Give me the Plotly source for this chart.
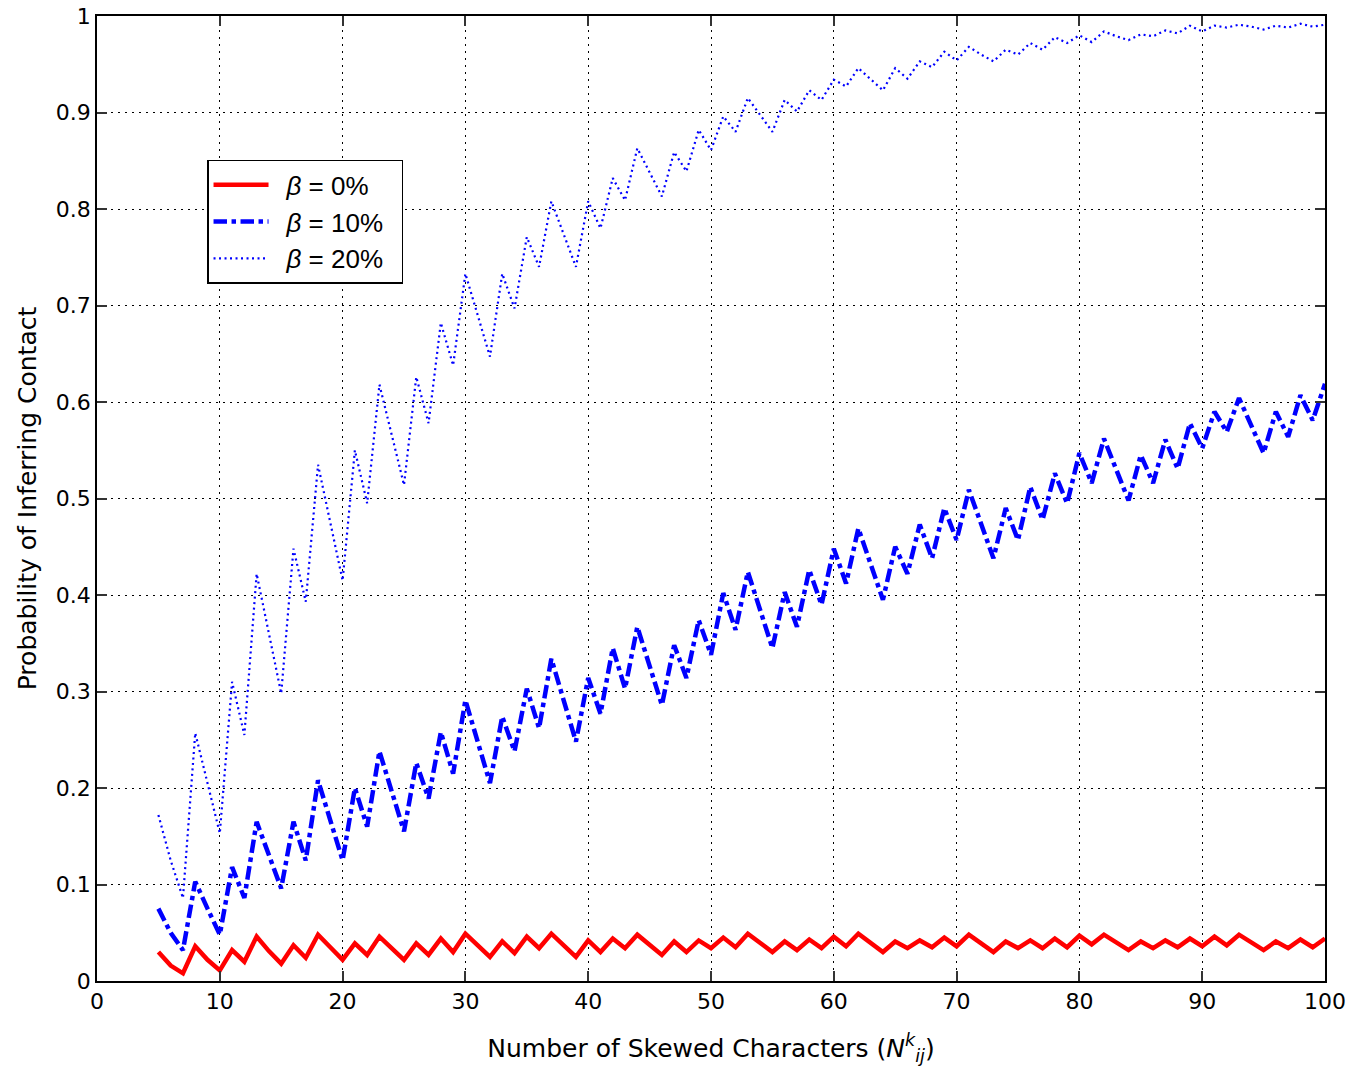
import plotly.graph_objects as go

# Number of skewed characters (N_ij^k)
n_chars = list(range(5, 101))

# Probability of inferring contact for each skew level
prob_beta_0 = [
    0.030, 0.016, 0.008, 0.036, 0.022, 0.011, 0.032, 0.020, 0.046, 0.031,
    0.018, 0.037, 0.024, 0.048, 0.035, 0.022, 0.039, 0.027, 0.046, 0.034,
    0.022, 0.039, 0.027, 0.044, 0.030, 0.049, 0.037, 0.025, 0.041, 0.029,
    0.046, 0.034, 0.049, 0.037, 0.025, 0.042, 0.030, 0.044, 0.034, 0.048,
    0.037, 0.027, 0.041, 0.030, 0.042, 0.034, 0.045, 0.035, 0.049, 0.039,
    0.030, 0.041, 0.032, 0.043, 0.034, 0.046, 0.036, 0.049, 0.039, 0.030,
    0.041, 0.034, 0.042, 0.035, 0.045, 0.036, 0.048, 0.039, 0.030, 0.041,
    0.034, 0.042, 0.034, 0.044, 0.035, 0.047, 0.038, 0.048, 0.040, 0.032,
    0.041, 0.034, 0.042, 0.035, 0.044, 0.036, 0.046, 0.037, 0.048, 0.040,
    0.032, 0.041, 0.034, 0.043, 0.035, 0.044,
]

prob_beta_10 = [
    0.075, 0.050, 0.032, 0.103, 0.075, 0.048, 0.118, 0.086, 0.165, 0.130,
    0.096, 0.165, 0.125, 0.208, 0.166, 0.125, 0.200, 0.160, 0.238, 0.197,
    0.155, 0.226, 0.189, 0.258, 0.215, 0.291, 0.248, 0.205, 0.274, 0.238,
    0.303, 0.262, 0.334, 0.291, 0.248, 0.314, 0.277, 0.345, 0.303, 0.367,
    0.326, 0.286, 0.348, 0.314, 0.374, 0.338, 0.402, 0.364, 0.424, 0.385,
    0.345, 0.403, 0.367, 0.426, 0.390, 0.448, 0.412, 0.469, 0.432, 0.395,
    0.450, 0.422, 0.473, 0.438, 0.490, 0.457, 0.509, 0.473, 0.438, 0.490,
    0.457, 0.512, 0.478, 0.526, 0.495, 0.547, 0.516, 0.562, 0.530, 0.498,
    0.545, 0.516, 0.561, 0.531, 0.578, 0.552, 0.590, 0.569, 0.604, 0.575,
    0.547, 0.590, 0.564, 0.607, 0.581, 0.619,
]

prob_beta_20 = [
    0.172, 0.125, 0.086, 0.257, 0.205, 0.153, 0.310, 0.255, 0.422, 0.360,
    0.298, 0.448, 0.393, 0.535, 0.475, 0.415, 0.550, 0.495, 0.618, 0.565,
    0.514, 0.626, 0.578, 0.682, 0.638, 0.733, 0.690, 0.647, 0.733, 0.697,
    0.771, 0.740, 0.808, 0.774, 0.740, 0.808, 0.780, 0.832, 0.809, 0.863,
    0.838, 0.813, 0.859, 0.839, 0.882, 0.861, 0.896, 0.880, 0.915, 0.897,
    0.880, 0.913, 0.901, 0.923, 0.913, 0.934, 0.927, 0.946, 0.934, 0.923,
    0.946, 0.935, 0.953, 0.947, 0.963, 0.954, 0.968, 0.960, 0.953, 0.965,
    0.960, 0.972, 0.965, 0.978, 0.972, 0.980, 0.973, 0.984, 0.979, 0.975,
    0.981, 0.979, 0.985, 0.982, 0.990, 0.984, 0.990, 0.988, 0.991, 0.989,
    0.986, 0.990, 0.988, 0.992, 0.989, 0.991,
]

x_ticks = [0, 10, 20, 30, 40, 50, 60, 70, 80, 90, 100]
y_ticks = [0, 0.1, 0.2, 0.3, 0.4, 0.5, 0.6, 0.7, 0.8, 0.9, 1]
y_tick_text = ["0", "0.1", "0.2", "0.3", "0.4", "0.5", "0.6", "0.7", "0.8", "0.9", "1"]

TICK_FONT = "DejaVu Sans, Verdana, sans-serif"
TEXT_FONT = "DejaVu Sans, Arial, sans-serif"
LEGEND_FONT = "Liberation Sans, Arial, sans-serif"

fig = go.Figure()
fig.add_trace(go.Scatter(
    x=n_chars, y=prob_beta_0, mode="lines", name="\u2002<i>β</i> = 0%\u2002",
    line=dict(color="#ff0000", width=4.5, dash="solid"),
))
fig.add_trace(go.Scatter(
    x=n_chars, y=prob_beta_10, mode="lines", name="\u2002<i>β</i> = 10%\u2002",
    line=dict(color="#0000ff", width=4.5, dash="dashdot"),
))
fig.add_trace(go.Scatter(
    x=n_chars, y=prob_beta_20, mode="lines", name="\u2002<i>β</i> = 20%\u2002",
    line=dict(color="#0000ff", width=2.2, dash="2px,3.5px"),
))

axis_common = dict(
    showline=True, linecolor="black", linewidth=1.5, mirror="allticks",
    ticks="inside", ticklen=10, tickwidth=1.5, tickcolor="#333333",
    showgrid=True, gridcolor="black", gridwidth=1, griddash="2px,5px",
    zeroline=False, automargin=False,
    tickfont=dict(family=TICK_FONT, size=22, color="black"),
)

fig.update_xaxes(
    range=[0, 100], tickvals=x_ticks,
    title=dict(text="Number of Skewed Characters (<i>N</i><sup><i>k</i></sup><sub><i>ij</i></sub>)",
               font=dict(family=TEXT_FONT, size=25, color="black"), standoff=26),
    **axis_common,
)
fig.update_yaxes(
    range=[0, 1], tickvals=y_ticks, ticktext=y_tick_text,
    title=dict(text="Probability of Inferring Contact",
               font=dict(family=TEXT_FONT, size=25, color="black"), standoff=12),
    **axis_common,
)

fig.update_layout(
    width=1352, height=1077,
    margin=dict(l=97, r=27, t=16, b=96),
    paper_bgcolor="white", plot_bgcolor="white",
    showlegend=True,
    legend=dict(
        x=0.0896, y=0.851, xanchor="left", yanchor="top",
        bgcolor="white", bordercolor="black", borderwidth=1.5,
        font=dict(family=LEGEND_FONT, size=26, color="black"),
        itemwidth=55, tracegroupgap=0,
    ),
)

fig.write_html("out.html")
